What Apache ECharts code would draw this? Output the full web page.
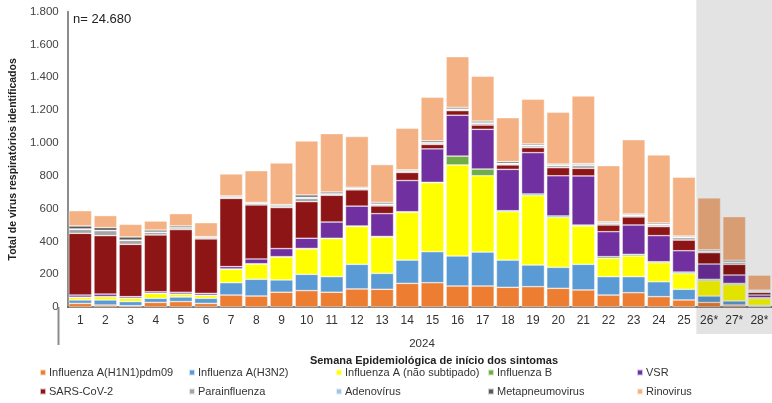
<!DOCTYPE html>
<html>
<head>
<meta charset="utf-8">
<script src="https://cdn.jsdelivr.net/npm/echarts@6/dist/echarts.min.js"></script>
<style>
  html, body { margin: 0; padding: 0; background: #fff; }
  #chart { width: 772px; height: 403px; }
</style>
</head>
<body>
<div id="chart"></div>
<script>
// semanas epidemiológicas (26*-28* = dados parciais)
const weeks = ['1','2','3','4','5','6','7','8','9','10','11','12','13','14','15','16','17','18','19','20','21','22','23','24','25','26*','27*','28*'];
const yTicks = [0, 200, 400, 600, 800, 1000, 1200, 1400, 1600, 1800];

const h1n1   = [22, 12, 8, 28, 33, 22, 73, 67, 90, 100, 90, 110, 108, 144, 148, 128, 128, 120, 124, 114, 104, 73, 87, 63, 43, 28, 12, 4];
const h3n2   = [21, 31, 25, 25, 28, 31, 75, 102, 75, 99, 95, 150, 97, 142, 189, 183, 207, 166, 132, 128, 156, 112, 98, 91, 65, 39, 25, 6];
const fluA   = [16, 20, 20, 30, 17, 18, 82, 93, 140, 155, 232, 231, 222, 292, 420, 555, 465, 295, 423, 303, 234, 112, 126, 116, 95, 93, 99, 41];
const fluB   = [1, 1, 1, 1, 1, 1, 2, 2, 2, 3, 2, 3, 3, 3, 3, 54, 41, 6, 10, 10, 6, 10, 10, 6, 10, 9, 8, 6];
const vsr    = [13, 15, 9, 9, 11, 11, 14, 29, 49, 62, 99, 121, 139, 190, 204, 249, 242, 252, 252, 245, 299, 152, 179, 159, 130, 93, 51, 16];
const sars   = [376, 356, 319, 346, 382, 332, 416, 329, 250, 223, 163, 99, 47, 49, 27, 28, 26, 27, 30, 49, 46, 41, 49, 55, 65, 69, 65, 16];
const para   = [24, 30, 24, 16, 10, 8, 8, 10, 10, 20, 7, 8, 8, 8, 8, 6, 10, 6, 11, 13, 17, 10, 8, 10, 15, 6, 10, 6];
const adeno  = [3, 2, 2, 2, 2, 1, 1, 1, 2, 7, 3, 2, 4, 2, 4, 4, 4, 4, 4, 4, 6, 4, 4, 4, 4, 4, 5, 3];
const metap  = [18, 17, 19, 12, 10, 5, 6, 5, 6, 14, 10, 6, 10, 6, 10, 10, 10, 10, 8, 6, 6, 6, 6, 8, 6, 7, 10, 5];
const rino   = [93, 73, 77, 55, 75, 85, 134, 193, 254, 329, 356, 309, 230, 254, 266, 309, 274, 268, 272, 315, 412, 342, 453, 415, 358, 317, 266, 91];

const seriesDefs = [
  { name: 'Influenza A(H1N1)pdm09', color: '#ED7D31', data: h1n1 },
  { name: 'Influenza A(H3N2)', color: '#5B9BD5', data: h3n2 },
  { name: 'Influenza A (não subtipado)', color: '#FFFF00', data: fluA },
  { name: 'Influenza B', color: '#70AD47', data: fluB },
  { name: 'VSR', color: '#7030A0', data: vsr },
  { name: 'SARS-CoV-2', color: '#8E1515', data: sars },
  { name: 'Parainfluenza', color: '#A5A5A5', data: para },
  { name: 'Adenovírus', color: '#9DC3E6', data: adeno },
  { name: 'Metapneumovirus', color: '#595959', data: metap },
  { name: 'Rinovirus', color: '#F4B183', data: rino }
];

// legenda em grade: 5 colunas x 2 linhas, como no original
const legendColX = [39, 188, 335, 487, 636];
const legendRowY = [367, 386];

const FONT = '"Liberation Sans", Arial, sans-serif';
const gridLeft = 58.5, gridTop = 11.7, gridW = 715.5, gridH = 295.3;

const chart = echarts.init(document.getElementById('chart'));

const option = {
  animation: false,
  textStyle: { fontFamily: FONT },
  color: seriesDefs.map(s => s.color),
  title: [
    { text: 'n= 24.680', left: 68, top: 8, textStyle: { fontSize: 13, fontWeight: 'normal', color: '#222', fontFamily: FONT } },
    { text: '2024', left: 417, top: 333, textAlign: 'center', textStyle: { fontSize: 11.5, fontWeight: 'normal', color: '#333', fontFamily: FONT } },
    { text: 'Semana Epidemiológica de início dos sintomas', left: 429, top: 350, textAlign: 'center', textStyle: { fontSize: 11, fontWeight: 'bold', color: '#222', fontFamily: FONT } }
  ],
  legend: seriesDefs.map((s, i) => ({
    left: legendColX[i % 5],
    top: legendRowY[Math.floor(i / 5)],
    padding: 0,
    itemWidth: 6,
    itemHeight: 6,
    icon: 'rect',
    selectedMode: false,
    textStyle: { fontSize: 11, color: '#333', fontFamily: FONT, padding: [0, 0, 0, -2] },
    data: [s.name]
  })),
  grid: { left: gridLeft, top: gridTop, width: gridW, height: gridH },
  xAxis: {
    type: 'category',
    data: weeks,
    axisLine: { lineStyle: { color: '#595959', width: 1.5 } },
    axisTick: { show: false },
    axisLabel: { color: '#333', fontSize: 12, margin: 8, interval: 0, fontFamily: FONT }
  },
  yAxis: {
    type: 'value',
    min: yTicks[0],
    max: yTicks[yTicks.length - 1],
    interval: 200,
    name: 'Total de vírus respiratórios identificados',
    nameLocation: 'middle',
    nameGap: 38,
    nameTextStyle: { fontSize: 10.5, fontWeight: 'bold', color: '#222', fontFamily: FONT },
    axisLine: { show: true, lineStyle: { color: '#8C8C8C', width: 2 } },
    axisTick: { show: false },
    splitLine: { show: false },
    axisLabel: {
      color: '#444', fontSize: 11.5, margin: 9, fontFamily: FONT,
      formatter: v => String(v).replace(/\B(?=(\d{3})+(?!\d))/g, '.')
    }
  },
  series: seriesDefs.map(s => ({
    name: s.name,
    type: 'bar',
    stack: 'total',
    barCategoryGap: '9%',
    itemStyle: { color: s.color, borderColor: 'rgba(255,255,255,0.7)', borderWidth: 0.6 },
    data: s.data
  }))
};

chart.setOption(option);

// faixa cinza das semanas parciais (26*-28*) e prolongamento do eixo
const band = gridW / weeks.length;
const xShade = chart.convertToPixel({ xAxisIndex: 0 }, '26*') - band / 2;
chart.setOption({
  graphic: [
    {
      type: 'rect', z: 100, silent: true,
      shape: { x: xShade, y: 0, width: 772 - xShade, height: 334 },
      style: { fill: 'rgba(0,0,0,0.11)' }
    },
    {
      type: 'line', z: 100, silent: true,
      shape: { x1: gridLeft, y1: gridTop + gridH, x2: gridLeft, y2: 345 },
      style: { stroke: '#8C8C8C', lineWidth: 2 }
    }
  ]
});
</script>
</body>
</html>
